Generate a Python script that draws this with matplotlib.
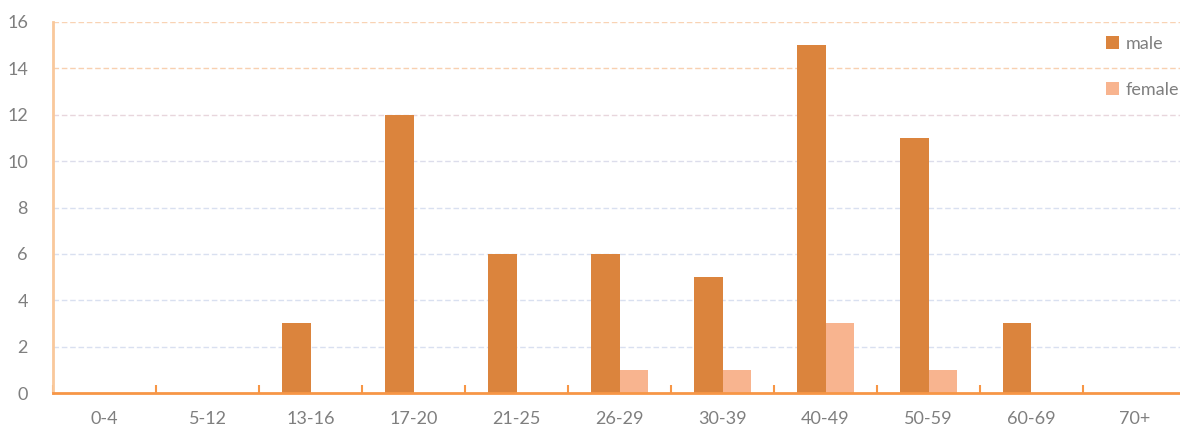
import numpy as np
import matplotlib.pyplot as plt

# age groups and counts
age_groups = ['0-4', '5-12', '13-16', '17-20', '21-25', '26-29',
              '30-39', '40-49', '50-59', '60-69', '70+']
male = [0, 0, 3, 12, 6, 6, 5, 15, 11, 3, 0]
female = [0, 0, 0, 0, 0, 1, 1, 3, 1, 0, 0]
y_ticks = [0, 2, 4, 6, 8, 10, 12, 14, 16]

male_color = '#DB843D'
female_color = '#F8B48F'
text_color = '#7F7F7F'

plt.rcParams['font.family'] = ['Lato', 'DejaVu Sans']

fig = plt.figure(figsize=(11.8, 4.3), dpi=100)
ax = fig.add_axes([53 / 1180, 1 - 393 / 430, 1133 / 1180, (393 - 22) / 430])

x = np.arange(len(age_groups))
w = 0.28
ax.bar(x - w / 2, male, width=w, color=male_color, label='male', zorder=3)
ax.bar(x + w / 2, female, width=w, color=female_color, label='female', zorder=3)

# dashed gridlines fading from orange at the top to blue below
grid_colors = {2: '#D9E0F0', 4: '#D9E0F0', 6: '#D9E0F0', 8: '#D9E0F0',
               10: '#DCDDEB', 12: '#E8D6DC', 14: '#F8D0B0', 16: '#F9D3B4'}
for yv, c in grid_colors.items():
    ax.axhline(yv, color=c, lw=1, ls=(0, (4, 2)), zorder=1)

ax.set_xlim(-0.5, len(age_groups) - 0.5)
ax.set_ylim(0, 16)
ax.set_yticks(y_ticks)
ax.set_xticks(x)
ax.set_xticklabels(age_groups)
ax.set_xticks(np.arange(len(age_groups)) - 0.5, minor=True)

ax.tick_params(axis='x', which='major', length=0, pad=13, labelsize=13, labelcolor=text_color)
ax.tick_params(axis='x', which='minor', length=6, width=1.5, direction='in', color='#F79646')
ax.tick_params(axis='y', length=0, pad=18, labelsize=13, labelcolor=text_color)

for s in ['top', 'right']:
    ax.spines[s].set_visible(False)
ax.spines['left'].set_color('#F9C89B')
ax.spines['left'].set_linewidth(2)
ax.spines['bottom'].set_color('#F79646')
ax.spines['bottom'].set_linewidth(2)
ax.spines['bottom'].set_zorder(4)

leg = ax.legend(loc='upper left', bbox_to_anchor=(0.925, 0.977), frameon=False,
                handlelength=0.7, handleheight=0.7, handletextpad=0.35,
                labelspacing=1.65, fontsize=13, borderaxespad=0, borderpad=0.3)
for t in leg.get_texts():
    t.set_color(text_color)

plt.savefig('out.png')
